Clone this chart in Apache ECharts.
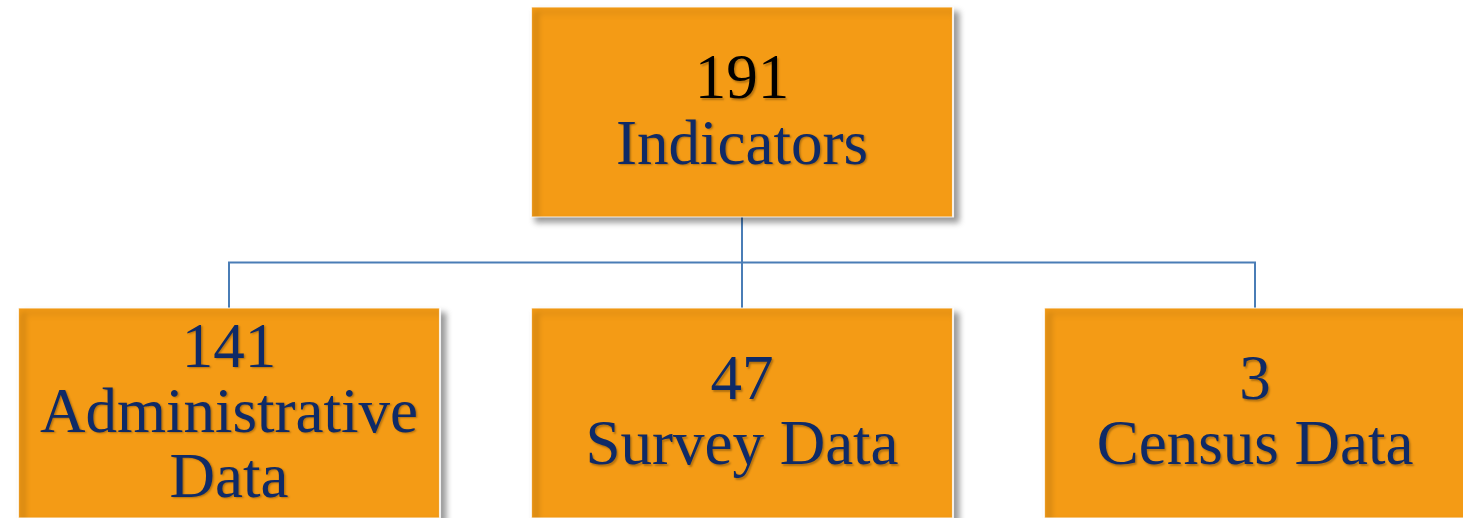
<!DOCTYPE html>
<html>
<head>
<meta charset="utf-8">
<script src="https://cdn.jsdelivr.net/npm/echarts@6/dist/echarts.min.js"></script>
<style>
  html, body { margin: 0; padding: 0; background: #fff; }
  #chart { width: 1463px; height: 518px; }
</style>
</head>
<body>
<div id="chart"></div>
<script>
// data
const rootName = 'Indicators'
const rootValue = 191
const sourceNames = ['Administrative\nData', 'Survey Data', 'Census Data']
const sourceValues = [141, 47, 3]

const chartDom = echarts.init(document.querySelector('#chart'))

const textShadow = {
  textShadowColor: 'rgba(0,0,0,0.28)',
  textShadowBlur: 2,
  textShadowOffsetX: 1.5,
  textShadowOffsetY: 1.5
}
const navy = '#0f2a66'

const treeData = {
  name: rootName,
  value: rootValue,
  label: {
    formatter: p => '{top|' + p.value + '}\n{t|' + p.name + '}'
  },
  children: sourceNames.map((name, i) => ({ name: name, value: sourceValues[i] }))
}

const option = {
  backgroundColor: '#fff',
  animation: false,
  series: [
    {
      type: 'tree',
      data: [treeData],
      layout: 'orthogonal',
      orient: 'TB',
      left: -27.5,
      width: 1539,
      top: 112,
      height: 301,
      symbol: 'rect',
      symbolSize: [422, 210],
      expandAndCollapse: false,
      roam: false,
      edgeShape: 'polyline',
      edgeForkPosition: '50%',
      itemStyle: {
        color: '#f49b15',
        borderColor: 'rgba(255,255,255,0.85)',
        borderWidth: 1.5,
        shadowColor: 'rgba(0,0,0,0.4)',
        shadowBlur: 6,
        shadowOffsetX: 5,
        shadowOffsetY: 5
      },
      lineStyle: {
        color: '#4a7db6',
        width: 2
      },
      label: {
        position: 'inside',
        align: 'center',
        verticalAlign: 'middle',
        offset: [0, 2],
        fontFamily: 'Liberation Serif',
        fontSize: 63,
        lineHeight: 65,
        color: navy,
        formatter: p => '{v|' + p.value + '}\n{t|' + p.name + '}',
        rich: {
          top: Object.assign({ color: '#000', fontFamily: 'Liberation Serif', fontSize: 63, lineHeight: 66 }, textShadow),
          v: Object.assign({ color: navy, fontFamily: 'Liberation Serif', fontSize: 63, lineHeight: 65 }, textShadow),
          t: Object.assign({ color: navy, fontFamily: 'Liberation Serif', fontSize: 63, lineHeight: 65 }, textShadow)
        }
      },
      leaves: {
        label: {
          position: 'inside',
          align: 'center',
          verticalAlign: 'middle'
        }
      },
      emphasis: { disabled: true }
    }
  ]
}

chartDom.setOption(option)

window.onresize = () => {
  chartDom.resize()
}
</script>
</body>
</html>
